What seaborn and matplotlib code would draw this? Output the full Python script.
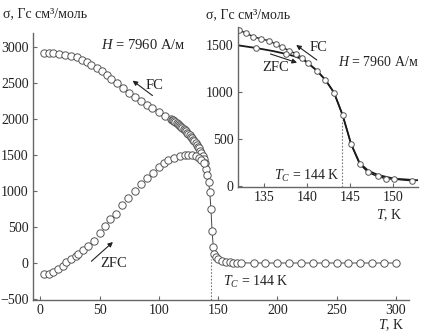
import matplotlib
matplotlib.use("Agg")
import matplotlib.pyplot as plt
import seaborn as sns
import numpy as np
import pandas as pd

# ---------------- data ----------------
fc_T = [3, 7, 11, 16, 21, 26, 31, 35, 39, 43, 48, 52, 56, 60, 65, 70, 75, 80, 85, 90,
        94, 100, 105, 110, 111, 112, 113, 114, 115, 116, 117, 118, 119, 120, 121, 122,
        123, 124, 125, 126, 127, 128, 129, 130, 131, 132, 133, 134, 135, 136, 137, 138,
        139, 140, 141, 142, 143, 144, 145, 146, 147, 148, 150, 153, 157, 160, 163, 166,
        169, 180, 190, 200, 210, 220, 230, 240, 250, 260, 270, 280, 290, 300]
fc_sigma = [2920, 2920, 2915, 2903, 2892, 2878, 2860, 2830, 2797, 2758, 2710, 2667, 2620,
            2561, 2500, 2436, 2371, 2306, 2250, 2204, 2158, 2107, 2051, 2005, 1994, 1983,
            1971, 1959, 1947, 1935, 1922, 1908, 1894, 1879, 1863, 1847, 1830, 1813, 1795,
            1776, 1756, 1736, 1715, 1693, 1670, 1645, 1620, 1593, 1563, 1528, 1488, 1442,
            1385, 1310, 1228, 1128, 993, 755, 443, 222, 121, 80, 61, 28, 14, 8, 5, 3,
            2, 0, 0, 0, 0, 0, 0, 0, 0, 0, 0, 0, 0, 0]

zfc_T = [3, 7, 11, 15, 19, 22, 26, 30, 32, 36, 40, 45, 50, 55, 59, 64, 69, 74, 80, 85,
         90, 95, 100, 104, 108, 113, 118, 122, 125, 128, 131, 134, 136, 138]
zfc_sigma = [-157, -147, -125, -83, -36, 14, 61, 97, 121, 176, 236, 306, 422, 519, 607,
             686, 801, 903, 1000, 1093, 1186, 1250, 1335, 1390, 1436, 1464, 1486, 1503,
             1508, 1500, 1485, 1455, 1430, 1390]

in_fc_T = [132, 132.9, 133.7, 134.6, 135.5, 136.3, 137.1, 137.9, 138.7, 139.4, 140.1,
           141.1, 142.1, 143.1, 144.1, 145.1, 146.1, 147.1, 148.2, 149.2, 150.1, 152.2]
in_fc_sigma = [1660, 1624, 1589, 1564, 1546, 1510, 1475, 1439, 1405, 1365, 1305,
               1227, 1128, 993, 755, 443, 230, 141, 99, 74, 70, 53]

in_zfc_T = [132, 134, 136, 137.5, 138.5, 139.5, 140.1, 141.1, 142.1, 143.1, 144.1,
            145.1, 146.1, 147.1, 148.2, 150.1, 152.9]
in_zfc_sigma = [1495, 1468, 1435, 1405, 1380, 1345, 1305, 1227, 1128, 993, 755,
                443, 240, 160, 115, 75, 58]
in_zfc_marked = [1, 3]   # indices of ZFC points drawn with circles in the inset

Tc = 144

# ---------------- style ----------------
sns.set_theme(style="ticks")
plt.rcParams['font.family'] = ['Liberation Serif', 'DejaVu Serif']
plt.rcParams['mathtext.fontset'] = 'custom'
plt.rcParams['mathtext.rm'] = 'Liberation Serif'
plt.rcParams['mathtext.it'] = 'Liberation Serif:italic'
plt.rcParams['xtick.direction'] = 'in'
plt.rcParams['ytick.direction'] = 'in'

spine_c = '#666666'
txt_c = '#222222'
fs = 10
fs_ann = 10.5

fig = plt.figure(figsize=(4.21, 3.33), dpi=100)
ax = fig.add_axes([0.078, 0.099, 0.893, 0.802])

df_fc = pd.DataFrame({'T': fc_T, 's': fc_sigma})
df_zfc = pd.DataFrame({'T': zfc_T, 's': zfc_sigma})

mk = dict(marker='o', markersize=5.3, markerfacecolor='white',
          markeredgecolor='#555555', markeredgewidth=0.7)
sns.lineplot(data=df_fc, x='T', y='s', ax=ax, color='#444444', linewidth=0.7,
             estimator=None, sort=False, **mk)
sns.lineplot(data=df_zfc, x='T', y='s', ax=ax, color='#444444', linewidth=0.0,
             estimator=None, sort=False, **mk)

ax.set_xlim(-6.3, 311)
ax.set_ylim(-515, 3200)
ax.set_xticks([0, 50, 100, 150, 200, 250, 300])
ax.set_yticks([-500, 0, 500, 1000, 1500, 2000, 2500, 3000])
ax.set_yticklabels(['\u2212500', '0', '500', '1000', '1500', '2000', '2500', '3000'])
ax.set_xlabel('')
ax.set_ylabel('')
for s in ['top', 'right']:
    ax.spines[s].set_visible(False)
for s in ['left', 'bottom']:
    ax.spines[s].set_color(spine_c)
    ax.spines[s].set_linewidth(1.0)
ax.tick_params(axis='both', labelsize=fs, colors=spine_c, labelcolor=txt_c,
               length=3, width=0.8, pad=3)
ax.vlines(Tc, -515, 60, colors='#777777', linestyles=(0, (1.5, 1.5)), linewidth=0.8)

ax.text(50.9, 3030, '$H$ = 7960 А/м', fontsize=fs_ann, ha='left', va='center', color=txt_c)
ax.text(88.8, 2468, 'FC', fontsize=fs_ann, ha='left', va='center', color=txt_c)
ax.annotate('', xy=(77.9, 2537), xytext=(94.7, 2329),
            arrowprops=dict(arrowstyle='-|>', color='#222222', lw=0.8,
                            mutation_scale=7, shrinkA=0, shrinkB=0))
ax.text(50.9, -4, 'ZFC', fontsize=fs_ann, ha='left', va='center', color=txt_c)
ax.annotate('', xy=(61.3, 292), xytext=(43.1, 24),
            arrowprops=dict(arrowstyle='-|>', color='#222222', lw=0.8,
                            mutation_scale=7, shrinkA=0, shrinkB=0))
ax.text(154.5, -268, '$T_C$ = 144 K', fontsize=fs, ha='left', va='center', color=txt_c)

fig.text(405 / 421, 1 - 325 / 333, '$T$, K', fontsize=fs, ha='right', va='center', color=txt_c)
fig.text(3 / 421, 1 - 13.5 / 333, 'σ, Гс см³/моль', fontsize=fs, ha='left', va='center',
         color=txt_c)

# ---------------- inset ----------------
axi = fig.add_axes([0.565, 0.4375, 0.428, 0.481])
axi.patch.set_alpha(0)
df_ifc = pd.DataFrame({'T': in_fc_T, 's': in_fc_sigma})
df_izfc = pd.DataFrame({'T': in_zfc_T, 's': in_zfc_sigma})
mki = dict(marker='o', markersize=4.0, markerfacecolor='white',
           markeredgecolor='#555555', markeredgewidth=0.7)
sns.lineplot(data=df_izfc, x='T', y='s', ax=axi, color='#1a1a1a', linewidth=1.3,
             estimator=None, sort=False)
sns.lineplot(data=df_ifc, x='T', y='s', ax=axi, color='#1a1a1a', linewidth=1.0,
             estimator=None, sort=False, **mki)
df_mark = df_izfc.iloc[in_zfc_marked]
sns.lineplot(data=df_mark, x='T', y='s', ax=axi, linewidth=0, estimator=None,
             sort=False, **mki)

axi.set_xlim(131.9, 152.9)
axi.set_ylim(-17, 1690)
axi.set_xticks([135, 140, 145, 150])
axi.set_yticks([0, 500, 1000, 1500])
axi.set_xlabel('')
axi.set_ylabel('')
for s in ['top', 'right']:
    axi.spines[s].set_visible(False)
for s in ['left', 'bottom']:
    axi.spines[s].set_color(spine_c)
    axi.spines[s].set_linewidth(1.0)
axi.tick_params(axis='both', labelsize=fs, colors=spine_c, labelcolor=txt_c,
                length=3, width=0.8, pad=3)
axi.vlines(Tc, -17, 700, colors='#777777', linestyles=(0, (1.5, 1.5)), linewidth=0.8)

axi.text(143.57, 1319, '$H$ = 7960 А/м', fontsize=fs, ha='left', va='center', color=txt_c)
axi.text(140.3, 1468, 'FC', fontsize=fs_ann, ha='left', va='center', color=txt_c)
axi.annotate('', xy=(138.7, 1500), xytext=(141.1, 1340),
             arrowprops=dict(arrowstyle='-|>', color='#222222', lw=0.8,
                             mutation_scale=7, shrinkA=0, shrinkB=0))
axi.text(134.7, 1265, 'ZFC', fontsize=fs_ann, ha='left', va='center', color=txt_c)
axi.annotate('', xy=(138.8, 1311), xytext=(135.7, 1404),
             arrowprops=dict(arrowstyle='-|>', color='#222222', lw=0.8,
                             mutation_scale=7, shrinkA=0, shrinkB=0))
axi.text(136.1, 103, '$T_C$ = 144 K', fontsize=fs, ha='left', va='center', color=txt_c)

fig.text(403 / 421, 1 - 215 / 333, '$T$, K', fontsize=fs, ha='right', va='center', color=txt_c)
fig.text(206 / 421, 1 - 15 / 333, 'σ, Гс см³/моль', fontsize=fs, ha='left', va='center',
         color=txt_c)

fig.savefig('out.png', dpi=100)
